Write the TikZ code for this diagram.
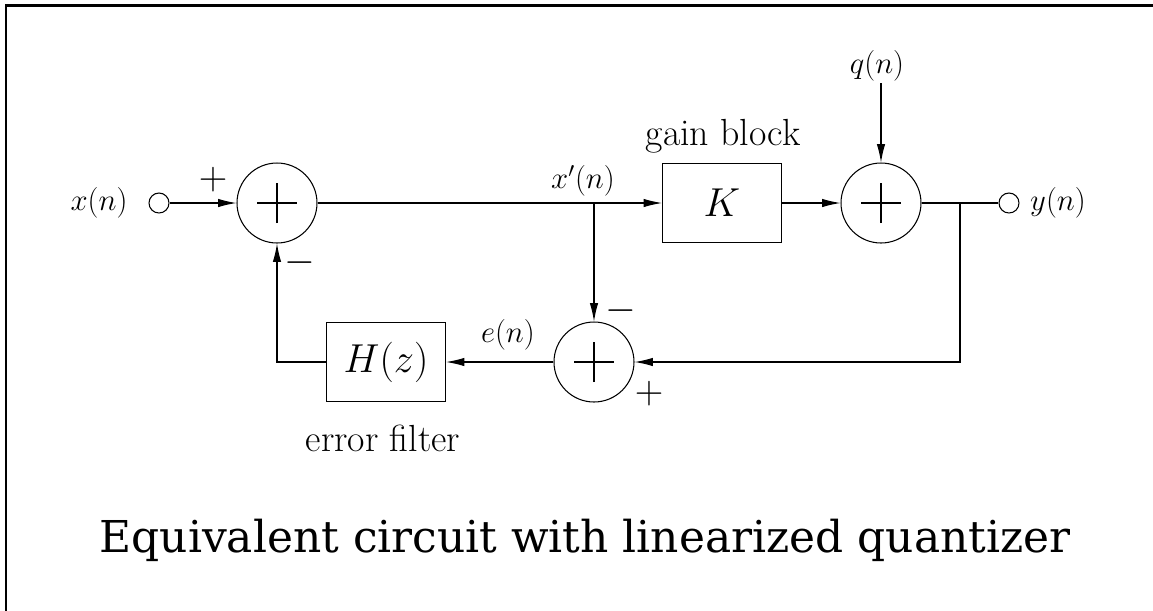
\documentclass[tikz,border=0pt]{standalone}
\usepackage{fix-cm}
\usepackage{fontspec}
\newfontfamily\titlefont{DejaVu Serif}
\usetikzlibrary{positioning,arrows.meta,calc}

\tikzset{
  sig/.style={line width=0.6pt},
  tip/.style={sig, -{Latex[length=10.5pt,width=4.8pt]}},
  sumnode/.style={circle, draw, sig, minimum size=1.6cm, inner sep=0pt,
    path picture={\draw[sig]
      ([xshift=-0.4cm]path picture bounding box.center) -- ([xshift=0.4cm]path picture bounding box.center)
      ([yshift=-0.4cm]path picture bounding box.center) -- ([yshift=0.4cm]path picture bounding box.center);}},
  blocknode/.style={rectangle, draw, sig, minimum width=2.38cm, minimum height=1.58cm, inner sep=0pt,
    font=\fontsize{23}{26}\selectfont},
  portnode/.style={circle, draw, sig, minimum size=0.4cm, inner sep=0pt},
  siglabel/.style={font=\fontsize{17.5}{20}\selectfont, inner sep=1pt},
  signlabel/.style={font=\fontsize{22.5}{26}\selectfont, inner sep=0pt},
  textlabel/.style={font=\fontsize{21.5}{25}\selectfont, inner sep=1pt},
}

\begin{document}
\begin{tikzpicture}[x=0.02cm, y=-0.02cm]
  \useasboundingbox (0,0) rectangle (1153,610);
  % frame
  \draw[line width=1.7pt] (6,612) -- (6,5) -- (1155,5);

  % forward path
  \node[portnode] (xin) at (159,203) {};
  \node[siglabel] (xlab) at (99,203) {$x(n)$};
  \node[sumnode] (s1) at (277,203) {};
  \node[blocknode] (K) at (722,203) {$K$};
  \node[textlabel] (gain) at (723,136) {gain block};
  \node[sumnode] (s2) at (881,203) {};
  \node[siglabel] (qlab) at (877,66) {$q(n)$};
  \node[portnode] (yout) at (1009,203) {};
  \node[siglabel] (ylab) at (1058,203) {$y(n)$};
  \coordinate (br1) at (594,203);
  \coordinate (br2) at (960,203);
  \node[siglabel] (xplab) at (583,181) {$x'(n)$};

  % feedback path
  \node[sumnode] (s3) at (594,362) {};
  \node[blocknode] (H) at (386,362) {$H(z)$};
  \node[textlabel] (err) at (383,438) {error filter};
  \node[siglabel] (elab) at (508,335) {$e(n)$};

  % signs
  \node[signlabel] (p1) at (213,180) {$+$};
  \node[signlabel] (m1) at (300,263) {$-$};
  \node[signlabel] (m3) at (621,311) {$-$};
  \node[signlabel] (p3) at (649,394) {$+$};

  % connectors
  \draw[tip] (xin) -- (s1);
  \draw[tip] (s1) -- (K);
  \draw[tip] (br1) -- (s3);
  \draw[tip] (K) -- (s2);
  \draw[tip] (qlab.south -| s2) -- (s2);
  \draw[sig] (s2) -- (yout);
  \draw[tip] (br2) |- (s3);
  \draw[tip] (s3) -- (H);
  \draw[tip] (H) -| (s1);

  % caption
  \node (title) at (585,540) {\titlefont\fontsize{25}{30}\selectfont Equivalent circuit with linearized quantizer};
\end{tikzpicture}
\end{document}
